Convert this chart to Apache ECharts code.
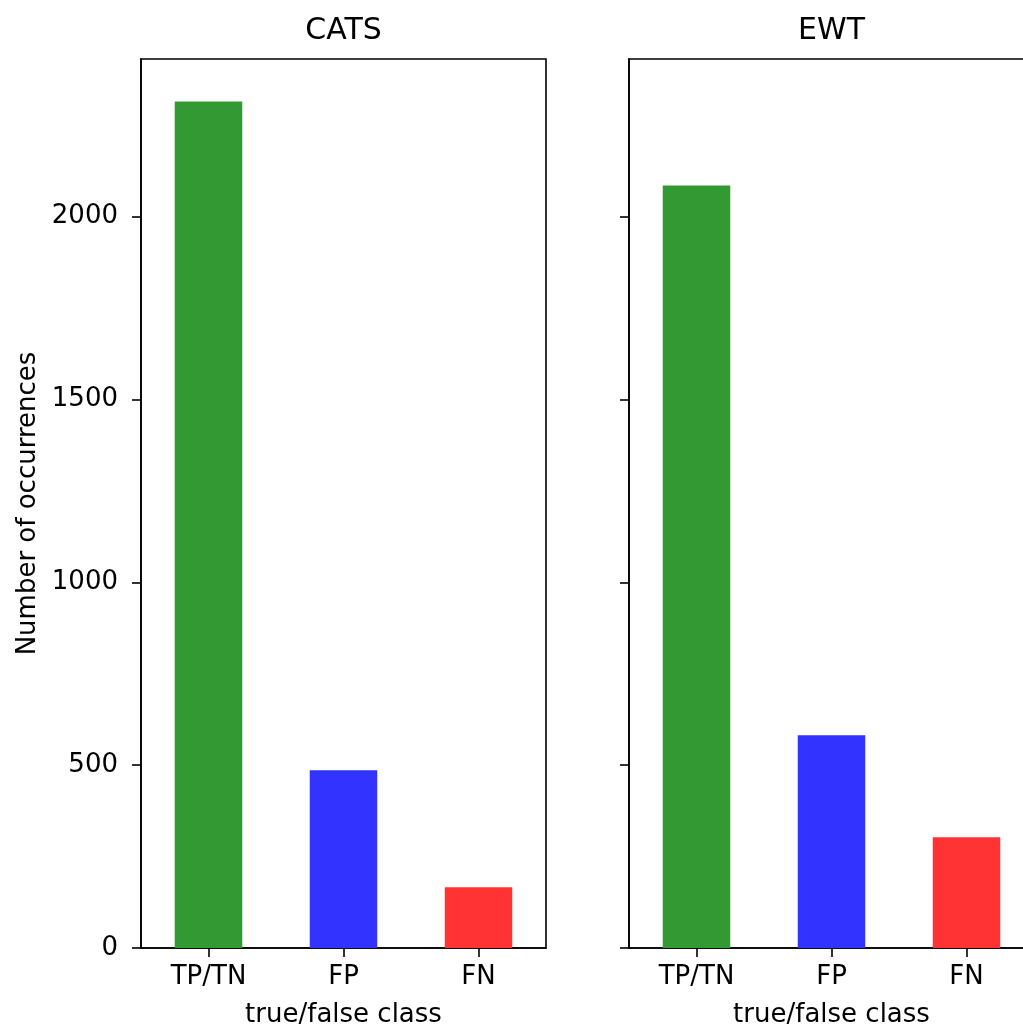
<!DOCTYPE html>
<html>
<head>
<meta charset="utf-8">
<script src="https://cdn.jsdelivr.net/npm/echarts@6/dist/echarts.min.js"></script>
<style>
html,body{margin:0;padding:0;background:#fff;}
#chart{width:1023px;height:1027px;}
</style>
</head>
<body>
<div id="chart"></div>
<script>
const categories = ['TP/TN', 'FP', 'FN'];
const catsValues = [2315, 486, 166];
const ewtValues = [2085, 582, 303];
const barColors = ['#339933', '#3333ff', '#ff3333'];
const yTicks = [0, 500, 1000, 1500, 2000];
const yMax = 2431;
const panelTitles = ['CATS', 'EWT'];
const xName = 'true/false class';
const yName = 'Number of occurrences';

const FONT = 'DejaVu Sans';
const grids = [
  {left: 141, top: 59, width: 405, height: 889},
  {left: 629, top: 59, width: 405, height: 889}
];

function xAxis(i) {
  return {
    type: 'category', gridIndex: i, data: categories, boundaryGap: true,
    name: xName, nameLocation: 'middle', nameGap: 54,
    nameTextStyle: {fontFamily: FONT, fontSize: 26, color: '#000'},
    axisLine: {show: true, lineStyle: {color: '#000', width: 1.6}},
    axisTick: {show: true, alignWithLabel: true, length: 9, lineStyle: {color: '#000', width: 1.6}},
    axisLabel: {fontFamily: FONT, fontSize: 26, color: '#000', margin: 16},
    splitLine: {show: false}
  };
}
function yAxis(i) {
  return {
    type: 'value', gridIndex: i, min: 0, max: yMax, interval: 500,
    name: i === 0 ? yName : '', nameLocation: 'middle', nameGap: 100,
    nameTextStyle: {fontFamily: FONT, fontSize: 26, color: '#000'},
    axisLine: {show: true, lineStyle: {color: '#000', width: 1.6}},
    axisTick: {show: true, length: 9, customValues: yTicks, lineStyle: {color: '#000', width: 1.6}},
    axisLabel: {show: i === 0, customValues: yTicks, formatter: v => String(v),
      fontFamily: FONT, fontSize: 26, color: '#000', margin: 23},
    splitLine: {show: false}
  };
}
function barSeries(i, values) {
  return {
    type: 'bar', xAxisIndex: i, yAxisIndex: i, barWidth: '50%',
    data: values.map((v, k) => ({value: v, itemStyle: {color: barColors[k]}})),
    silent: true, animation: false
  };
}

const chart = echarts.init(document.getElementById('chart'), null, {renderer: 'canvas'});
chart.setOption({
  backgroundColor: '#fff',
  animation: false,
  grid: grids.map(g => Object.assign({show: true, borderColor: '#000', borderWidth: 1.6,
    backgroundColor: 'transparent', containLabel: false, outerBoundsMode: 'none'}, g)),
  xAxis: [xAxis(0), xAxis(1)],
  yAxis: [yAxis(0), yAxis(1)],
  series: [barSeries(0, catsValues), barSeries(1, ewtValues)],
  graphic: panelTitles.map((t, i) => ({
    type: 'text', x: grids[i].left + grids[i].width / 2, y: 31,
    style: {text: t, align: 'center', verticalAlign: 'middle', fontFamily: FONT, fontSize: 30, fill: '#000'}
  }))
});
</script>
</body>
</html>
